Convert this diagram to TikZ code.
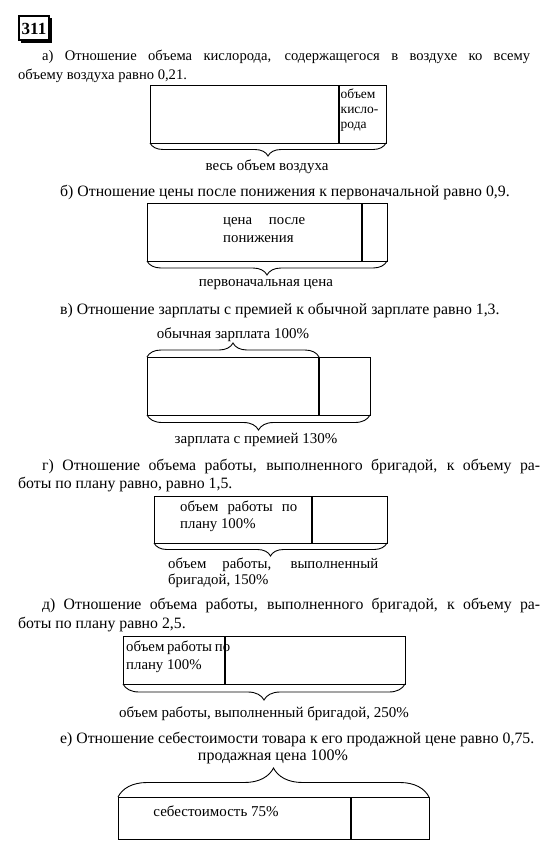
\documentclass[tikz,border=0pt]{standalone}
\usepackage{fontspec}
\setmainfont{Liberation Serif}
\usetikzlibrary{decorations.pathreplacing}
\begin{document}
\begin{tikzpicture}[x=1pt,y=-1pt,
  heading/.style={anchor=west,inner sep=0pt,font=\fontsize{15.8}{18}\selectfont},
  headA/.style={anchor=west,inner sep=0pt,font=\fontsize{14.6}{17}\selectfont},
  lbl/.style={inner sep=0pt,font=\fontsize{15}{17}\selectfont},
  inbox/.style={inner sep=0pt,anchor=west,font=\fontsize{14.8}{17}\selectfont},
  small/.style={inner sep=0pt,anchor=west,font=\fontsize{13.5}{15}\selectfont},
  frame/.style={draw,line width=0.9pt},
  divider/.style={line width=1.4pt},
  bracestyle/.style={decorate,decoration={brace,amplitude=#1},line width=0.9pt},
]
\useasboundingbox[fill=white] (0,0) rectangle (550,860);

% number
\draw[line width=2.6pt] (19,16) rectangle (49,40);
\draw[line width=1.6pt] (21,41.8) -- (50.8,41.8) -- (50.8,18);
\node[inner sep=0pt,font=\bfseries\fontsize{17}{17}\selectfont] (num) at (34,28.5) {311};

% a)
\node[headA] (a1) at (42,57) {\makebox[488pt][s]{а) Отношение объема кислорода, содержащегося в воздухе ко всему}};
\node[headA] (a2) at (18,76) {объему воздуха равно 0,21.};
\draw[frame] (150,85) rectangle (386,143);
\draw[divider] (339,85) -- (339,143);
\node[small] (a3) at (340.5,94) {объем};
\node[small] (a4) at (340.5,110.5) {кисло-};
\node[small] (a5) at (340.5,127) {рода};
\coordinate (aL) at (150,143);
\coordinate (aR) at (386,143);
\draw[bracestyle=13pt] (aR) -- (aL);
\node[lbl] (a6) at (267,167) {весь объем воздуха};

% b)
\node[heading] (b1) at (60,193) {б) Отношение цены после понижения к первоначальной равно 0,9.};
\draw[frame] (147,203) rectangle (387,261);
\draw[divider] (362,203) -- (362,261);
\node[inbox] (b2) at (223,222) {\makebox[82pt][s]{цена после}};
\node[inbox] (b3) at (223,239) {понижения};
\coordinate (bL) at (147,261);
\coordinate (bR) at (387,261);
\draw[bracestyle=14pt] (bR) -- (bL);
\node[lbl] (b4) at (266,285) {первоначальная цена};

% v)
\node[heading] (v1) at (60,311) {в) Отношение зарплаты с премией к обычной зарплате равно 1,3.};
\node[lbl] (v2) at (233,335) {обычная зарплата 100\%};
\draw[frame] (147,357) rectangle (370,415);
\draw[divider] (319,357) -- (319,415);
\coordinate (vTL) at (147,357);
\coordinate (vTR) at (319,357);
\draw[bracestyle=14pt] (vTL) -- (vTR);
\coordinate (vL) at (147,415);
\coordinate (vR) at (370,415);
\draw[bracestyle=15pt] (vR) -- (vL);
\node[lbl] (v3) at (256,440) {зарплата с премией 130\%};

% g)
\node[heading] (g1) at (42,467) {\makebox[498pt][s]{г) Отношение объема работы, выполненного бригадой, к объему ра-}};
\node[heading] (g2) at (18,485) {боты по плану равно, равно 1,5.};
\draw[frame] (154,496) rectangle (387,543);
\draw[divider] (312,496) -- (312,543);
\node[inbox] (g3) at (180,508) {\makebox[117pt][s]{объем работы по}};
\node[inbox] (g4) at (180,525) {плану 100\%};
\coordinate (gL) at (154,543);
\coordinate (gR) at (387,543);
\draw[bracestyle=13pt] (gR) -- (gL);
\node[inbox] (g5) at (168,565) {\makebox[210pt][s]{объем работы, выполненный}};
\node[inbox] (g6) at (168,581) {бригадой, 150\%};

% d)
\node[heading] (d1) at (42,606) {\makebox[498pt][s]{д) Отношение объема работы, выполненного бригадой, к объему ра-}};
\node[heading] (d2) at (18,625) {боты по плану равно 2,5.};
\draw[frame] (123,636) rectangle (405,684);
\draw[divider] (225,636) -- (225,684);
\node[inbox] (d3) at (126,648) {\makebox[104pt][s]{объем работы по}};
\node[inbox] (d4) at (126,666) {плану 100\%};
\coordinate (dL) at (123,684);
\coordinate (dR) at (405,684);
\draw[bracestyle=16pt] (dR) -- (dL);
\node[lbl] (d5) at (264,714) {объем работы, выполненный бригадой, 250\%};

% e)
\node[heading] (e1) at (60,740) {е) Отношение себестоимости товара к его продажной цене равно 0,75.};
\node[lbl,font=\fontsize{16}{18}\selectfont] (e2) at (273,757) {продажная цена 100\%};
\coordinate (eL) at (118,797);
\coordinate (eR) at (429,797);
\draw[bracestyle=29pt] (eL) -- (eR);
\draw[frame] (118,797) rectangle (429,839);
\draw[divider] (351,797) -- (351,839);
\node[lbl] (e3) at (216,811) {себестоимость 75\%};
\end{tikzpicture}
\end{document}
